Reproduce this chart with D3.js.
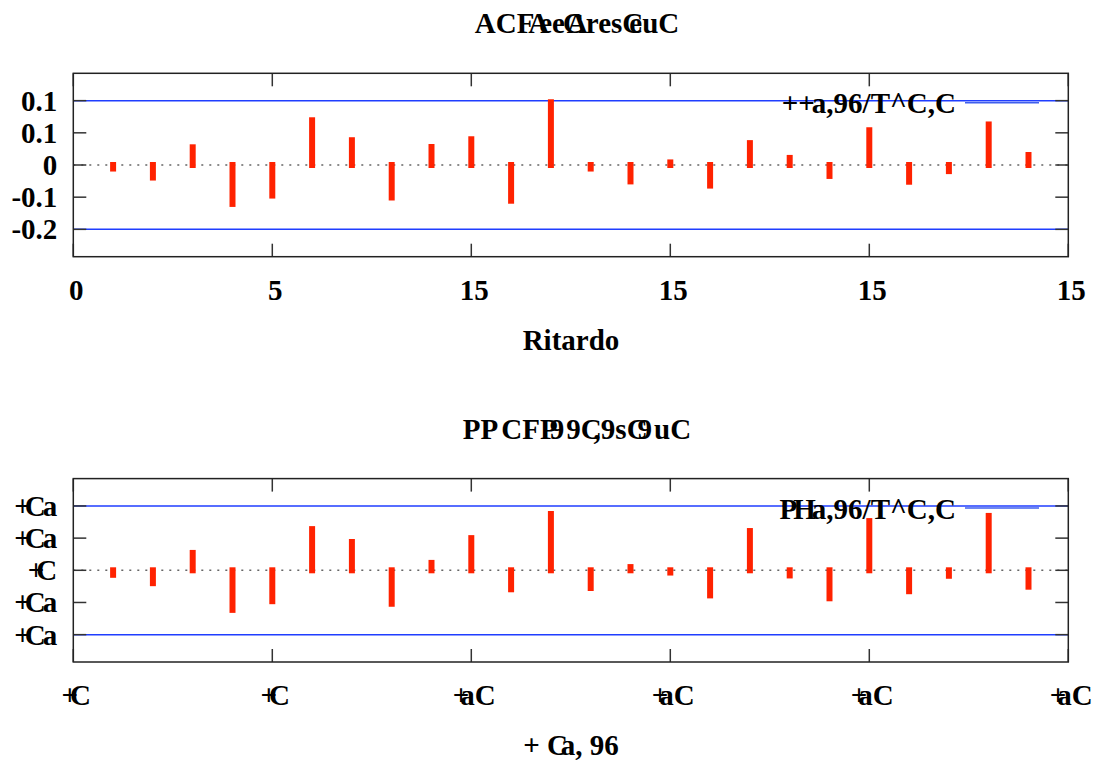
<!DOCTYPE html>
<html>
<head>
<meta charset="utf-8">
<script src="https://cdn.jsdelivr.net/npm/d3@7"></script>
<style>
  html, body { margin: 0; padding: 0; background: #fff; }
  svg text {
    font-family: "Liberation Serif", "Times New Roman", serif;
    font-weight: bold;
    font-size: 29px;
    fill: #000;
  }
</style>
</head>
<body>
<svg id="chart" width="1094" height="760"></svg>
<script>
// Residual correlogram: ACF (top) and PACF (bottom), lags 1..24,
// with the +/- 1.96/sqrt(T) band drawn as two blue lines.

const LAGS = [1, 2, 3, 4, 5, 6, 7, 8, 9, 10, 11, 12,
              13, 14, 15, 16, 17, 18, 19, 20, 21, 22, 23, 24];

const ACF = [-0.011, -0.039, 0.055, -0.121, -0.095, 0.139, 0.077, -0.101,
             0.056, 0.080, -0.111, 0.195, -0.011, -0.051, 0.008, -0.064,
             0.068, 0.022, -0.034, 0.108, -0.052, -0.019, 0.126, 0.031];

const PACF = [-0.014, -0.040, 0.054, -0.123, -0.096, 0.128, 0.088, -0.104,
              0.023, 0.100, -0.059, 0.175, -0.055, 0.010, -0.007, -0.078,
              0.122, -0.016, -0.087, 0.153, -0.065, -0.017, 0.169, -0.051];

const CONF_BAND = 0.2;

const X_TICKS = [0, 5, 10, 15, 20, 25];
const X_TICK_LABELS_ACF = ["0", "5", "15", "15", "15", "15"];
const X_TICK_LABELS_PACF = ["+C", "+C", "+aC", "+aC", "+aC", "+aC"];

const Y_TICKS = [0.2, 0.1, 0, -0.1, -0.2];
const Y_TICK_LABELS_ACF = ["0.1", "0.1", "0", "-0.1", "-0.2"];
const Y_TICK_LABELS_PACF = ["+Ca", "+Ca", "+C", "+Ca", "+Ca"];

const TITLES = ["ACFAeeCAresCeuC", "PPCFP99C,9sC9uC"];
const X_LABELS = ["Ritardo", "+ Ca, 96"];
const LEGEND_LABELS = ["++a,96/T^C,C", "PHa,96/T^C,C"];

// The labels come out of the original renderer with glyphs piled on
// top of each other; per-character pull-backs (px) mimic that.
const GLYPH_OVERLAP = {
    "ACFAeeCAresCeuC": { 3: -4, 4: -10, 6: -2, 7: -17, 8: -2, 12: -14 },
    "PPCFP99C,9sC9uC": { 2: 3, 5: -8, 6: 2, 8: -8, 12: -10, 13: 2 },
    "+Ca": { 1: -6, 2: -3 },
    "+C": { 1: -8 },
    "+aC": { 1: -9 },
    "+ Ca, 96": { 3: -7 },
    "PHa,96/T^C,C": { 1: -4, 2: -4 },
    "++a,96/T^C,C": { 2: -3 },
};

const PLOT_LEFT = 73.3;
const PLOT_RIGHT = 1068.3;
const PLOT_H = 183.4;
const PANEL_TOPS = [73.3, 478.6];

const svg = d3.select("#chart");

const x = d3.scaleLinear()
    .domain([0, 25])
    .range([PLOT_LEFT, PLOT_RIGHT]);

function glyphs(sel, str) {
    const kern = GLYPH_OVERLAP[str];
    if (!kern) {
        sel.text(str);
        return;
    }
    sel.selectAll("tspan")
        .data(Array.from(str))
        .join("tspan")
        .attr("dx", (c, i) => kern[i] || 0)
        .text((c) => c);
}

function drawPanel(top, cfg) {
    const bottom = top + PLOT_H;
    const y = d3.scaleLinear()
        .domain([-0.285, 0.285])
        .range([bottom, top]);

    const g = svg.append("g");

    // zero reference (dotted)
    g.append("line")
        .attr("x1", PLOT_LEFT).attr("x2", PLOT_RIGHT)
        .attr("y1", y(0)).attr("y2", y(0))
        .attr("stroke", "#666")
        .attr("stroke-width", 1.5)
        .attr("stroke-dasharray", "2,6");

    // confidence band lines
    g.selectAll("line.band")
        .data([CONF_BAND, -CONF_BAND])
        .join("line")
        .attr("class", "band")
        .attr("x1", PLOT_LEFT).attr("x2", PLOT_RIGHT)
        .attr("y1", (d) => y(d)).attr("y2", (d) => y(d))
        .attr("stroke", "#1f3dff")
        .attr("stroke-width", 1.5);

    // impulses
    g.selectAll("line.imp")
        .data(LAGS)
        .join("line")
        .attr("class", "imp")
        .attr("x1", (d) => x(d)).attr("x2", (d) => x(d))
        .attr("y1", y(0))
        .attr("y2", (d, i) => y(cfg.values[i]))
        .attr("stroke", "#ff2200")
        .attr("stroke-width", 6)
        .attr("stroke-linecap", "square");

    // inward ticks on all four sides
    const TL = 13;
    const tickG = g.append("g")
        .attr("stroke", "#333")
        .attr("stroke-width", 1.5);
    for (const v of Y_TICKS) {
        tickG.append("line")
            .attr("x1", PLOT_LEFT).attr("x2", PLOT_LEFT + TL)
            .attr("y1", y(v)).attr("y2", y(v));
        tickG.append("line")
            .attr("x1", PLOT_RIGHT - TL).attr("x2", PLOT_RIGHT)
            .attr("y1", y(v)).attr("y2", y(v));
    }
    for (const v of X_TICKS) {
        tickG.append("line")
            .attr("x1", x(v)).attr("x2", x(v))
            .attr("y1", top).attr("y2", top + TL);
        tickG.append("line")
            .attr("x1", x(v)).attr("x2", x(v))
            .attr("y1", bottom - TL).attr("y2", bottom);
    }

    // frame
    g.append("rect")
        .attr("x", PLOT_LEFT).attr("y", top)
        .attr("width", PLOT_RIGHT - PLOT_LEFT)
        .attr("height", PLOT_H)
        .attr("fill", "none")
        .attr("stroke", "#222")
        .attr("stroke-width", 1.5);

    // y tick labels
    g.selectAll("text.ytl")
        .data(Y_TICKS)
        .join("text")
        .attr("class", "ytl")
        .attr("x", PLOT_LEFT - 16)
        .attr("y", (d) => y(d))
        .attr("dy", "0.34em")
        .attr("text-anchor", "end")
        .each(function (d, i) { glyphs(d3.select(this), cfg.yLabels[i]); });

    // x tick labels
    g.selectAll("text.xtl")
        .data(X_TICKS)
        .join("text")
        .attr("class", "xtl")
        .attr("x", (d) => x(d) + 3)
        .attr("y", bottom + 43)
        .attr("text-anchor", "middle")
        .each(function (d, i) { glyphs(d3.select(this), cfg.xLabels[i]); });

    // axis label and title
    g.append("text")
        .attr("x", 571)
        .attr("y", bottom + 93)
        .attr("text-anchor", "middle")
        .call(glyphs, cfg.xTitle);

    g.append("text")
        .attr("x", 577)
        .attr("y", top - 40)
        .attr("text-anchor", "middle")
        .call(glyphs, cfg.title);

    // legend
    g.append("text")
        .attr("x", 956)
        .attr("y", top + 40)
        .attr("text-anchor", "end")
        .call(glyphs, cfg.legend);
    g.append("line")
        .attr("x1", 965).attr("x2", 1039)
        .attr("y1", top + 29.5).attr("y2", top + 29.5)
        .attr("stroke", "#3f5fee")
        .attr("stroke-width", 1.5);
}

drawPanel(PANEL_TOPS[0], {
    values: ACF,
    yLabels: Y_TICK_LABELS_ACF,
    xLabels: X_TICK_LABELS_ACF,
    title: TITLES[0],
    xTitle: X_LABELS[0],
    legend: LEGEND_LABELS[0],
});

drawPanel(PANEL_TOPS[1], {
    values: PACF,
    yLabels: Y_TICK_LABELS_PACF,
    xLabels: X_TICK_LABELS_PACF,
    title: TITLES[1],
    xTitle: X_LABELS[1],
    legend: LEGEND_LABELS[1],
});
</script>
</body>
</html>
